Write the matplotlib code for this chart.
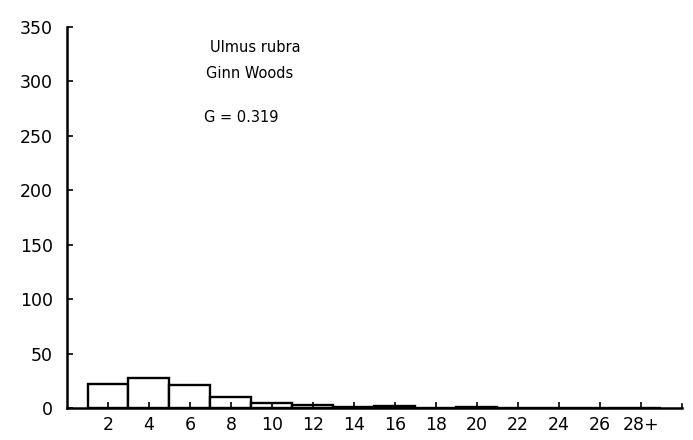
import matplotlib
matplotlib.use("Agg")
from matplotlib import pyplot as plt

# size classes (diameter, 2-unit bins) and number of stems
classes = [2, 4, 6, 8, 10, 12, 14, 16, 18, 20, 22, 24, 26, 28]
class_labels = ["2", "4", "6", "8", "10", "12", "14", "16", "18", "20", "22", "24", "26", "28+"]
counts = [22, 27.5, 21, 10, 4.5, 2.5, 0.6, 2, 0.3, 1, 0, 0.3, 0, 0]

species = "Ulmus rubra"
site = "Ginn Woods"
gini = "G = 0.319"

plt.rcParams["font.family"] = ["DejaVu Sans"]
fig = plt.figure(figsize=(6.93, 4.40), dpi=100)
ax = fig.add_axes([0.0967, 0.0727, 0.887, 0.866])

ax.bar(classes, counts, width=2, facecolor="white", edgecolor="black", linewidth=1.7)

ax.set_xlim(0, 30)
ax.set_ylim(0, 350)
ax.set_xticks(classes)
ax.set_xticklabels(class_labels)
ax.set_yticks(range(0, 351, 50))

ax.spines["top"].set_visible(False)
ax.spines["right"].set_visible(False)
ax.spines["left"].set_linewidth(1.8)
ax.spines["bottom"].set_linewidth(1.8)
ax.tick_params(direction="in", length=4, width=1.2, labelsize=12.5, pad=6)
ax.tick_params(axis="y", pad=10)
# closing tick at the right end of the x axis
ax.plot([30, 30], [0, 4], color="black", lw=1.2, clip_on=False)

ax.text(0.232, 0.945, species, transform=ax.transAxes, fontsize=10.5, va="center")
ax.text(0.226, 0.878, site, transform=ax.transAxes, fontsize=10.5, va="center")
ax.text(0.223, 0.763, gini, transform=ax.transAxes, fontsize=10.5, va="center")

fig.savefig("out.png", dpi=100)
